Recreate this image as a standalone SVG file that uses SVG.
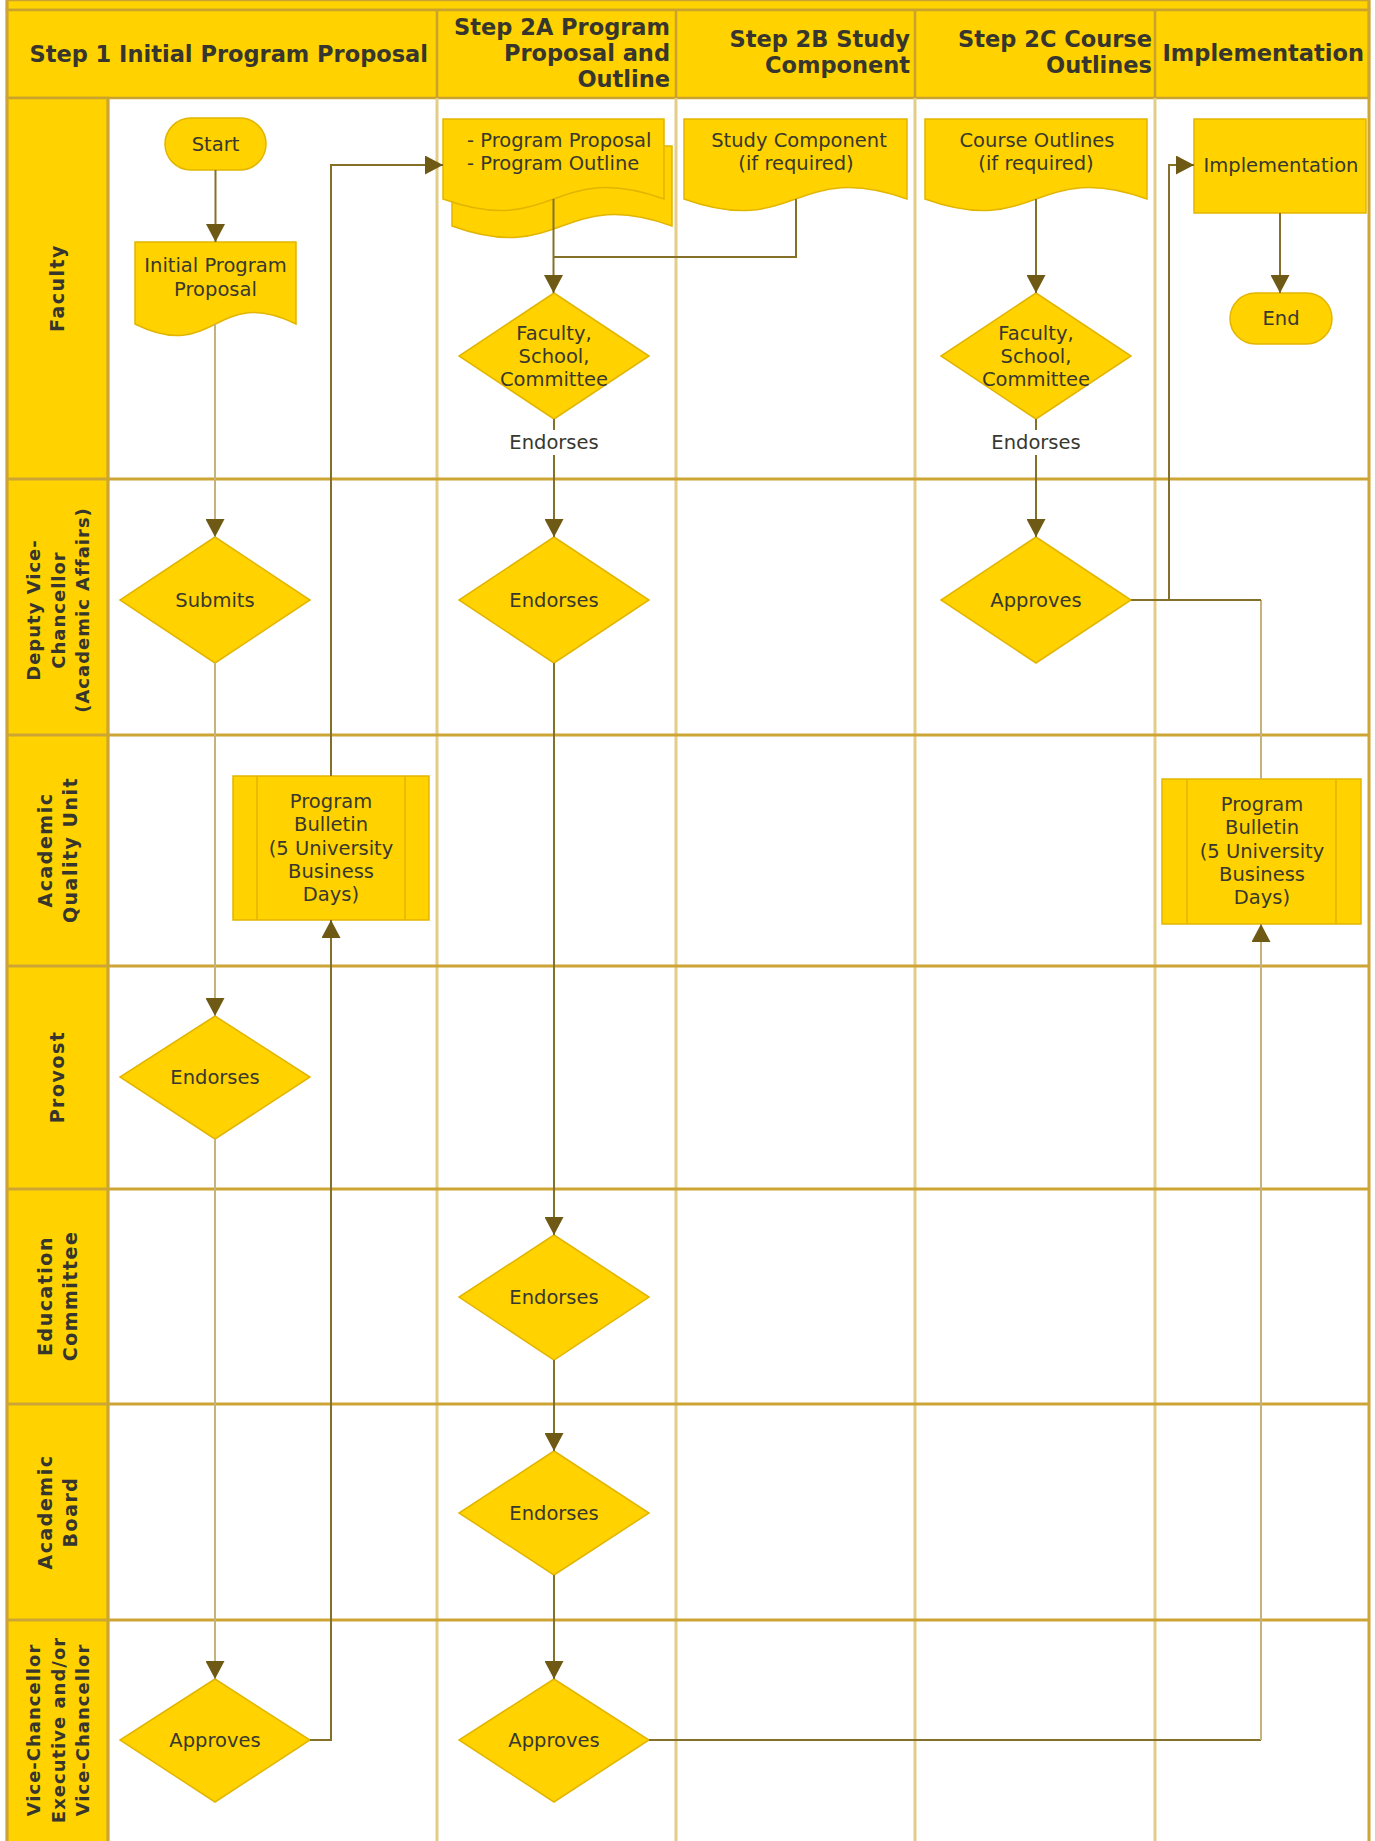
<svg xmlns="http://www.w3.org/2000/svg" width="1375" height="1841" viewBox="0 0 1375 1841">
<defs>
<style>
.bg{fill:#ffffff}
.band{fill:#FFD200;stroke:#C9A22F;stroke-width:2.5}
.lane-line{stroke:#CDA535;stroke-width:3;fill:none}
.col-line{stroke:#E4CD88;stroke-width:3;fill:none}
.col-line-h{stroke:#C9A22F;stroke-width:2.5;fill:none}
.node{fill:#FFD200;stroke:#E2B500;stroke-width:1.5}
.inner{stroke:#E2B500;stroke-width:1.5;fill:none}
.t{font-family:"DejaVu Sans",Verdana,sans-serif;font-size:19.5px;fill:#38382e;text-anchor:middle}
.tl{font-family:"DejaVu Sans",Verdana,sans-serif;font-size:19.5px;fill:#38382e;text-anchor:start}
.hd{font-family:"DejaVu Sans",Verdana,sans-serif;font-size:22.5px;font-weight:bold;fill:#36362e;text-anchor:end}
.lane{font-family:"DejaVu Sans",Verdana,sans-serif;font-size:19px;font-weight:bold;fill:#36362e;text-anchor:middle;letter-spacing:1.5px}
.lane-s{font-family:"DejaVu Sans",Verdana,sans-serif;font-size:18px;font-weight:bold;fill:#36362e;text-anchor:middle;letter-spacing:1px}
.dk{stroke:#85702A;stroke-width:2;fill:none}
.lt{stroke:#C6B27C;stroke-width:2;fill:none}
</style>
<marker id="arr" markerUnits="userSpaceOnUse" markerWidth="19" markerHeight="19" refX="18" refY="9.5" orient="auto">
<path d="M0,0 L18,9.5 L0,19 Z" fill="#6E5A14"/>
</marker>
</defs>
<rect class="bg" x="0" y="0" width="1375" height="1841"/>

<g id="swimlanes">
<rect class="band" x="7" y="0" width="1362" height="10"/>
<rect class="band" x="7" y="10" width="1362" height="88"/>
<rect class="band" x="7" y="98" width="101" height="1750"/>
<line class="col-line" x1="437" y1="98" x2="437" y2="1841"/>
<line class="col-line" x1="676" y1="98" x2="676" y2="1841"/>
<line class="col-line" x1="915" y1="98" x2="915" y2="1841"/>
<line class="col-line" x1="1155" y1="98" x2="1155" y2="1841"/>
<line class="col-line-h" x1="437" y1="10" x2="437" y2="98"/>
<line class="col-line-h" x1="676" y1="10" x2="676" y2="98"/>
<line class="col-line-h" x1="915" y1="10" x2="915" y2="98"/>
<line class="col-line-h" x1="1155" y1="10" x2="1155" y2="98"/>
<line class="lane-line" x1="7" y1="479" x2="1369" y2="479"/>
<line class="lane-line" x1="7" y1="735" x2="1369" y2="735"/>
<line class="lane-line" x1="7" y1="966" x2="1369" y2="966"/>
<line class="lane-line" x1="7" y1="1189" x2="1369" y2="1189"/>
<line class="lane-line" x1="7" y1="1404" x2="1369" y2="1404"/>
<line class="lane-line" x1="7" y1="1620" x2="1369" y2="1620"/>
<line class="lane-line" x1="1369" y1="0" x2="1369" y2="1841"/>
<line class="lane-line" x1="7" y1="0" x2="7" y2="1841"/>
<line class="lane-line" x1="108" y1="98" x2="108" y2="1841"/>
<text class="hd" x="428" y="62">Step 1 Initial Program Proposal</text>
<text class="hd" x="670" y="35">Step 2A Program</text>
<text class="hd" x="670" y="61">Proposal and</text>
<text class="hd" x="670" y="87">Outline</text>
<text class="hd" x="910" y="47">Step 2B Study</text>
<text class="hd" x="910" y="73">Component</text>
<text class="hd" x="1152" y="47">Step 2C Course</text>
<text class="hd" x="1152" y="73">Outlines</text>
<text class="hd" x="1364" y="61">Implementation</text>
<text class="lane" transform="translate(64,288) rotate(-90)">Faculty</text>
<text class="lane-s" transform="translate(40,610) rotate(-90)">Deputy Vice-</text>
<text class="lane-s" transform="translate(65,610) rotate(-90)">Chancellor</text>
<text class="lane-s" transform="translate(89,610) rotate(-90)">(Academic Affairs)</text>
<text class="lane" transform="translate(52,850) rotate(-90)">Academic</text>
<text class="lane" transform="translate(77,850) rotate(-90)">Quality Unit</text>
<text class="lane" transform="translate(64,1077) rotate(-90)">Provost</text>
<text class="lane" transform="translate(52,1296) rotate(-90)">Education</text>
<text class="lane" transform="translate(77,1296) rotate(-90)">Committee</text>
<text class="lane" transform="translate(52,1512) rotate(-90)">Academic</text>
<text class="lane" transform="translate(77,1512) rotate(-90)">Board</text>
<text class="lane-s" transform="translate(40,1730) rotate(-90)">Vice-Chancellor</text>
<text class="lane-s" transform="translate(65,1730) rotate(-90)">Executive and/or</text>
<text class="lane-s" transform="translate(89,1730) rotate(-90)">Vice-Chancellor</text>
</g>

<g id="start">
<rect class="node" x="165" y="118" width="101" height="52" rx="26"/>
<text class="t" x="215.5" y="151">Start</text>
</g>
<g id="initial-proposal">
<path class="node" d="M135,242 H296 V324 C215.5,284 215.5,364 135,324 Z"/>
<text class="t" x="215.5" y="272">Initial Program</text>
<text class="t" x="215.5" y="296">Proposal</text>
</g>
<g id="program-proposal-outline">
<path class="node" d="M452,146 H672 V226 C562,186 562,266 452,226 Z"/>
<path class="node" d="M443,119 H664 V199 C553.5,159 553.5,239 443,199 Z"/>
<text class="tl" x="467" y="147">- Program Proposal</text>
<text class="tl" x="467" y="170">- Program Outline</text>
</g>
<g id="study-component">
<path class="node" d="M684,119 H907 V199 C795.5,159 795.5,239 684,199 Z"/>
<text class="t" x="799" y="147">Study Component</text>
<text class="t" x="796" y="170">(if required)</text>
</g>
<g id="course-outlines">
<path class="node" d="M925,119 H1147 V199 C1036,159 1036,239 925,199 Z"/>
<text class="t" x="1037" y="147">Course Outlines</text>
<text class="t" x="1036" y="170">(if required)</text>
</g>
<g id="implementation">
<rect class="node" x="1194" y="119" width="172" height="94"/>
<text class="t" x="1281" y="172">Implementation</text>
</g>
<g id="end">
<rect class="node" x="1230" y="293" width="102" height="51" rx="25.5"/>
<text class="t" x="1281" y="325">End</text>
</g>
<g id="fsc-2a">
<polygon class="node" points="554,293 649,356 554,419 459,356"/>
<text class="t" x="554" y="340">Faculty,</text>
<text class="t" x="554" y="363">School,</text>
<text class="t" x="554" y="386">Committee</text>
</g>
<g id="fsc-2c">
<polygon class="node" points="1036,293 1131,356 1036,419 941,356"/>
<text class="t" x="1036" y="340">Faculty,</text>
<text class="t" x="1036" y="363">School,</text>
<text class="t" x="1036" y="386">Committee</text>
</g>
<g id="submits">
<polygon class="node" points="215,537 310,600 215,663 120,600"/>
<text class="t" x="215" y="607">Submits</text>
</g>
<g id="dvc-endorses">
<polygon class="node" points="554,537 649,600 554,663 459,600"/>
<text class="t" x="554" y="607">Endorses</text>
</g>
<g id="dvc-approves">
<polygon class="node" points="1036,537 1131,600 1036,663 941,600"/>
<text class="t" x="1036" y="607">Approves</text>
</g>
<g id="bulletin-1">
<rect class="node" x="233" y="776" width="196" height="144"/>
<line class="inner" x1="257" y1="776" x2="257" y2="920"/>
<line class="inner" x1="405" y1="776" x2="405" y2="920"/>
<text class="t" x="331" y="808">Program</text>
<text class="t" x="331" y="831">Bulletin</text>
<text class="t" x="331" y="855">(5 University</text>
<text class="t" x="331" y="878">Business</text>
<text class="t" x="331" y="901">Days)</text>
</g>
<g id="bulletin-2">
<rect class="node" x="1162" y="779" width="199" height="145"/>
<line class="inner" x1="1187" y1="779" x2="1187" y2="924"/>
<line class="inner" x1="1336" y1="779" x2="1336" y2="924"/>
<text class="t" x="1262" y="811">Program</text>
<text class="t" x="1262" y="834">Bulletin</text>
<text class="t" x="1262" y="858">(5 University</text>
<text class="t" x="1262" y="881">Business</text>
<text class="t" x="1262" y="904">Days)</text>
</g>
<g id="provost-endorses">
<polygon class="node" points="215,1016 310,1077 215,1139 120,1077"/>
<text class="t" x="215" y="1084">Endorses</text>
</g>
<g id="edu-endorses">
<polygon class="node" points="554,1235 649,1297 554,1360 459,1297"/>
<text class="t" x="554" y="1304">Endorses</text>
</g>
<g id="board-endorses">
<polygon class="node" points="554,1451 649,1513 554,1575 459,1513"/>
<text class="t" x="554" y="1520">Endorses</text>
</g>
<g id="vc-approves-1">
<polygon class="node" points="215,1679 310,1740 215,1802 120,1740"/>
<text class="t" x="215" y="1747">Approves</text>
</g>
<g id="vc-approves-2">
<polygon class="node" points="554,1679 649,1740 554,1802 459,1740"/>
<text class="t" x="554" y="1747">Approves</text>
</g>

<g id="connectors">
<path class="dk" d="M215.5,170 V242" marker-end="url(#arr)"/>
<path class="lt" d="M215,324 V537" marker-end="url(#arr)"/>
<path class="lt" d="M215,663 V1016" marker-end="url(#arr)"/>
<path class="lt" d="M215,1139 V1679" marker-end="url(#arr)"/>
<path class="dk" d="M310,1740 H331 V920" marker-end="url(#arr)"/>
<path class="dk" d="M331,776 V165 H443" marker-end="url(#arr)"/>
<path class="dk" d="M553.5,199 V293" marker-end="url(#arr)"/>
<path class="dk" d="M796,199 V257 H553.5"/>
<path class="dk" d="M554,419 V537" marker-end="url(#arr)"/>
<path class="dk" d="M554,663 V1235" marker-end="url(#arr)"/>
<path class="dk" d="M554,1360 V1451" marker-end="url(#arr)"/>
<path class="dk" d="M554,1575 V1679" marker-end="url(#arr)"/>
<path class="dk" d="M649,1740 H1261"/>
<path class="lt" d="M1261,1740 V924" marker-end="url(#arr)"/>
<path class="lt" d="M1261,779 V600"/>
<path class="dk" d="M1131,600 H1261"/>
<path class="dk" d="M1169,600 V165 H1194" marker-end="url(#arr)"/>
<path class="dk" d="M1036,199 V293" marker-end="url(#arr)"/>
<path class="dk" d="M1036,419 V537" marker-end="url(#arr)"/>
<path class="dk" d="M1280,213 V293" marker-end="url(#arr)"/>
<rect x="508" y="430" width="92" height="25" fill="#ffffff"/>
<text class="t" x="554" y="449">Endorses</text>
<rect x="990" y="430" width="92" height="25" fill="#ffffff"/>
<text class="t" x="1036" y="449">Endorses</text>
</g>
</svg>
